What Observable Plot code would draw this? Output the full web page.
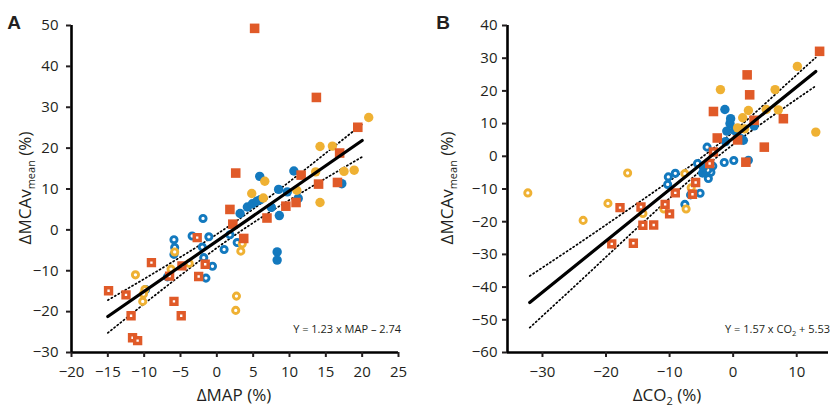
<!DOCTYPE html>
<html><head><meta charset="utf-8">
<script src="https://cdn.jsdelivr.net/npm/d3@7"></script>
<script src="https://cdn.jsdelivr.net/npm/@observablehq/plot@0.6"></script>
<style>
body{margin:0;background:#fff;}
#wrap{display:flex;width:831px;height:413px;overflow:hidden;}
#wrap svg{display:block;overflow:visible;}
</style></head><body><div id="wrap"></div>
<script>
// ---------- Panel A: ΔMAP (%) vs ΔMCAv mean (%) ----------
const aBlueFilled = [[5.9,13.1],[10.6,14.4],[8.5,9.9],[9.7,9.3],[3.2,4.0],[4.2,5.6],[4.9,6.4],[5.5,7.0],[6.0,7.4],[7.5,5.5],[8.6,3.5],[11.2,7.7],[8.3,-5.4],[8.3,-7.4],[17.2,11.3]];
const aBlueOpen = [[-1.9,2.8],[-3.4,-1.5],[-1.1,-1.7],[-5.9,-2.4],[-5.8,-4.3],[-5.9,-6.0],[-2.0,-4.2],[-1.8,-6.8],[-0.6,-8.9],[-1.5,-11.8],[1.0,-4.8],[-6.8,-11.5],[-9.8,-14.6],[2.8,-3.1],[1.8,-1.2]];
const aOrangeFilled = [[5.2,49.3],[13.7,32.4],[19.4,25.1],[2.6,13.9],[16.9,18.8],[11.6,13.4],[14.0,11.2],[16.6,11.6],[1.8,5.0],[2.2,1.4],[3.7,-2.1],[6.9,2.9],[9.5,5.8],[10.9,6.7]];
const aOrangeOpen = [[-14.9,-14.9],[-12.5,-15.9],[-9.0,-8.0],[-2.7,-1.9],[-4.8,-8.8],[-6.5,-11.3],[-1.6,-8.4],[-2.5,-11.4],[-5.9,-17.5],[-4.9,-21.0],[-11.8,-21.0],[-11.6,-26.4],[-10.9,-27.1]];
const aYellowFilled = [[6.6,11.9],[4.8,8.9],[6.4,7.8],[11.0,9.7],[20.9,27.5],[14.2,20.4],[15.9,20.5],[13.6,14.2],[17.5,14.3],[18.9,14.6],[14.2,6.7]];
const aYellowOpen = [[-11.2,-11.0],[-5.8,-5.4],[-6.3,-9.6],[-3.8,-8.2],[-9.9,-14.6],[-10.1,-15.7],[-10.2,-17.5],[2.7,-16.2],[2.6,-19.7],[3.3,-5.2],[3.5,-3.4]];
const aFit = {slope: 1.23, intercept: -2.74, xFrom: -15, xTo: 20};
const aBandX  = [-15, -10, -5, 0, 5, 10, 15, 20];
const aBandUp = [-17.2, -12.0, -6.65, -1.06, 5.09, 11.8, 18.78, 25.86];
const aBandLo = [-25.2, -18.1, -11.13, -4.42, 1.73, 7.32, 12.64, 17.86];
const aXTicks = [-20, -15, -10, -5, 0, 5, 10, 15, 20, 25];
const aYTicks = [-30, -20, -10, 0, 10, 20, 30, 40, 50];

// ---------- Panel B: ΔCO2 (%) vs ΔMCAv mean (%) ----------
const bBlueFilled = [[-1.3,14.3],[-0.4,11.5],[-0.5,10.0],[-1.0,7.7],[0.2,7.9],[1.2,5.4],[1.6,4.9],[3.3,9.3],[-4.8,-5.1],[-4.7,-3.3],[-1.2,4.5]];
const bBlueOpen = [[-4.1,2.8],[-1.4,-1.9],[0.1,-1.3],[2.4,-1.2],[-10.2,-6.3],[-9.1,-5.2],[-10.3,-8.6],[-5.6,-2.2],[-3.5,-4.9],[-3.9,-6.8],[-3.2,-3.0],[-5.2,-11.3],[-6.7,-11.8],[-7.6,-14.7],[-4.0,-4.2]];
const bOrangeFilled = [[13.6,32.1],[2.2,24.9],[2.6,18.8],[-3.1,13.7],[7.9,11.5],[-2.5,5.6],[4.9,2.8],[0.7,5.0],[2.0,-1.8],[3.3,11.0]];
const bOrangeOpen = [[-3.7,-2.2],[-3.1,1.3],[-5.9,-8.0],[-9.1,-11.2],[-10.7,-14.7],[-14.5,-15.5],[-17.8,-15.7],[-10.0,-17.6],[-14.2,-21.1],[-12.5,-21.0],[-19.1,-26.8],[-15.7,-26.6],[-6.4,-11.6]];
const bYellowFilled = [[-2.0,20.4],[2.4,14.0],[6.6,20.4],[10.1,27.5],[13.0,7.4],[5.2,14.3],[7.1,14.2],[1.5,11.8],[0.7,8.7],[1.8,8.4]];
const bYellowOpen = [[-32.3,-11.2],[-16.6,-5.1],[-19.7,-14.4],[-23.6,-19.6],[-14.2,-17.5],[-10.9,-16.1],[-7.4,-16.1],[-7.6,-5.3],[-6.6,-9.6],[-4.6,-3.3]];
const bFit = {slope: 1.57, intercept: 5.53, xFrom: -32, xTo: 13};
const bBandX  = [-32, -25, -20, -15, -10, -5, 0, 5, 10, 13];
const bBandUp = [-36.6, -27.58, -20.96, -14.30, -7.51, -0.41, 7.44, 16.04, 24.95, 30.2];
const bBandLo = [-52.4, -39.86, -30.78, -21.74, -12.83, -4.23, 3.62, 10.72, 17.51, 21.5];
const bXTicks = [-30, -20, -10, 0, 10];
const bYTicks = [-60, -50, -40, -30, -20, -10, 0, 10, 20, 30, 40];

const BLUE = "#1379be", ORANGE = "#e05a28", YELLOW = "#efb133", INK = "#231f20";
const FONT = "'Open Sans', 'Noto Sans', sans-serif";

const toRows = arr => arr.map(([x, y]) => ({x, y}));

function panel(o) {
  const fitRows = [o.fit.xFrom, o.fit.xTo].map(x => ({x, y: o.fit.slope * x + o.fit.intercept}));
  const up = o.bandX.map((x, i) => ({x, y: o.bandUp[i]}));
  const lo = o.bandX.map((x, i) => ({x, y: o.bandLo[i]}));
  const openC = (d, c) => Plot.dot(toRows(d), {x: "x", y: "y", r: 3.1, fill: "white", stroke: c, strokeWidth: 2.9});
  const fillC = (d, c) => Plot.dot(toRows(d), {x: "x", y: "y", r: 4.7, fill: c, stroke: "none"});
  const openS = (d, c) => Plot.dot(toRows(d), {x: "x", y: "y", symbol: "square", r: 3.3, fill: "white", stroke: c, strokeWidth: 3.5});
  const fillS = (d, c) => Plot.dot(toRows(d), {x: "x", y: "y", symbol: "square", r: 5.4, fill: c, stroke: "none"});
  const svg = Plot.plot({
    width: o.width, height: 413,
    marginLeft: o.ml, marginRight: o.mr, marginTop: 25, marginBottom: 61,
    style: {fontFamily: FONT, fontSize: "15px", color: INK, background: "white", overflow: "visible"},
    x: {domain: o.xDomain, label: null},
    y: {domain: o.yDomain, label: null},
    marks: [
      Plot.line(up, {x: "x", y: "y", curve: "natural", stroke: "black", strokeWidth: 1.7, strokeDasharray: "1.2,2.8"}),
      Plot.line(lo, {x: "x", y: "y", curve: "natural", stroke: "black", strokeWidth: 1.7, strokeDasharray: "1.2,2.8"}),
      openC(o.blueOpen, BLUE),
      openC(o.yellowOpen, YELLOW),
      fillC(o.blueFilled, BLUE),
      fillC(o.yellowFilled, YELLOW),
      openS(o.orangeOpen, ORANGE),
      fillS(o.orangeFilled, ORANGE),
      Plot.line(fitRows, {x: "x", y: "y", stroke: "black", strokeWidth: 3.2}),
      Plot.ruleX([o.xDomain[0]], {stroke: "black", strokeWidth: 2.6}),
      Plot.ruleY([o.yDomain[0]], {stroke: "black", strokeWidth: 2.6}),
      Plot.axisX({ticks: o.xTicks, tickSize: 5, tickPadding: 9, strokeWidth: 2, label: null, fontSize: 15, fill: INK}),
      Plot.axisY({ticks: o.yTicks, tickSize: 5, tickPadding: o.yPad, strokeWidth: 2, label: null, fontSize: 15, fill: INK})
    ]
  });
  const s = d3.select(svg);
  // panel letter
  s.append("text").attr("x", o.letterX).attr("y", 29)
    .attr("font-family", "'Liberation Sans', Arial, sans-serif").attr("font-weight", "bold")
    .attr("font-size", 19).attr("fill", INK).text(o.letter);
  // y axis label with subscript
  const yl = s.append("text").attr("transform", `translate(${o.yLabelX},188) rotate(-90)`)
    .attr("text-anchor", "middle").attr("font-family", FONT).attr("font-size", 17).attr("fill", INK);
  yl.append("tspan").text("ΔMCAv");
  yl.append("tspan").attr("font-size", 11).attr("dy", 4).text("mean");
  yl.append("tspan").attr("dy", -4).text(" (%)");
  // x axis label
  const xl = s.append("text").attr("x", o.xLabelX).attr("y", 401)
    .attr("text-anchor", "middle").attr("font-family", FONT).attr("font-size", 17).attr("fill", INK);
  o.xLabel(xl);
  // equation
  const eq = s.append("text").attr("x", o.eqX).attr("y", 333)
    .attr("text-anchor", "end").attr("font-family", FONT).attr("font-size", 11).attr("fill", INK);
  o.eq(eq);
  return svg;
}

const wrap = document.getElementById("wrap");
wrap.appendChild(panel({
  width: 415, ml: 71, mr: 17, xDomain: [-20, 25], yDomain: [-30, 50], yPad: 8,
  xTicks: aXTicks, yTicks: aYTicks, fit: aFit, bandX: aBandX, bandUp: aBandUp, bandLo: aBandLo,
  blueFilled: aBlueFilled, blueOpen: aBlueOpen, orangeFilled: aOrangeFilled, orangeOpen: aOrangeOpen,
  yellowFilled: aYellowFilled, yellowOpen: aYellowOpen,
  letter: "A", letterX: 14, yLabelX: 31, xLabelX: 234, eqX: 401,
  xLabel: t => t.text("ΔMAP (%)"),
  eq: t => t.text("Y = 1.23 x MAP – 2.74")
}));
wrap.appendChild(panel({
  width: 416, ml: 92, mr: 3, xDomain: [-35.5, 15], yDomain: [-60, 40], yPad: 5,
  xTicks: bXTicks, yTicks: bYTicks, fit: bFit, bandX: bBandX, bandUp: bBandUp, bandLo: bBandLo,
  blueFilled: bBlueFilled, blueOpen: bBlueOpen, orangeFilled: bOrangeFilled, orangeOpen: bOrangeOpen,
  yellowFilled: bYellowFilled, yellowOpen: bYellowOpen,
  letter: "B", letterX: 28, yLabelX: 38, xLabelX: 252, eqX: 415,
  xLabel: t => { t.append("tspan").text("ΔCO"); t.append("tspan").attr("font-size", 11).attr("dy", 4).text("2"); t.append("tspan").attr("dy", -4).text(" (%)"); },
  eq: t => { t.append("tspan").text("Y = 1.57 x CO"); t.append("tspan").attr("font-size", 7.5).attr("dy", 2.5).text("2"); t.append("tspan").attr("dy", -2.5).text(" + 5.53"); }
}));
</script></body></html>
